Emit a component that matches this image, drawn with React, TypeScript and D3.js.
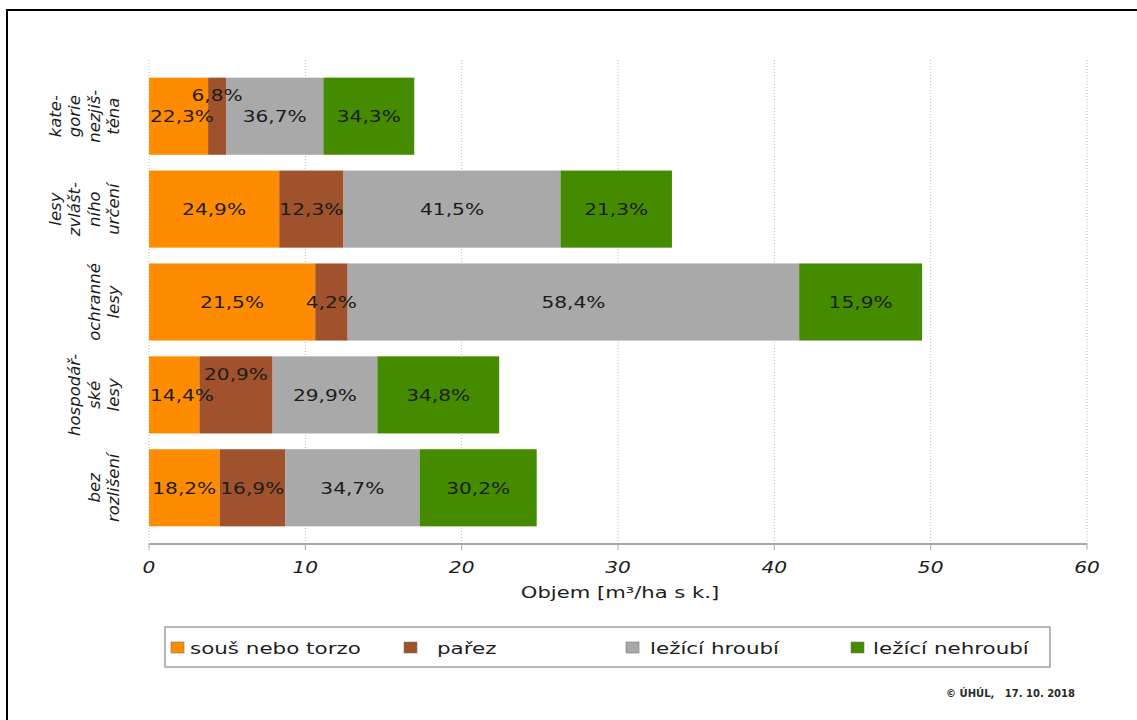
import React, { useEffect, useRef } from 'react';
import * as d3 from 'd3';

const categories = ['kategorie nezjištěna', 'lesy zvláštního určení', 'ochranné lesy', 'hospodářské lesy', 'bez rozlišení'];
const categoryLines = [
  ['kate-', 'gorie', 'nezjiš-', 'těna'],
  ['lesy', 'zvlášt-', 'ního', 'určení'],
  ['ochranné', 'lesy'],
  ['hospodář-', 'ské', 'lesy'],
  ['bez', 'rozlišení'],
];
const totals = [16.95, 33.45, 49.45, 22.4, 24.8];
const seriesNames = ['souš nebo torzo', 'pařez', 'ležící hroubí', 'ležící nehroubí'];
const seriesColors = ['#ff8c00', '#a0522d', '#a9a9a9', '#458b00'];
const sharesSous = [22.3, 24.9, 21.5, 14.4, 18.2];
const sharesParez = [6.8, 12.3, 4.2, 20.9, 16.9];
const sharesHroubi = [36.7, 41.5, 58.4, 29.9, 34.7];
const sharesNehroubi = [34.3, 21.3, 15.9, 34.8, 30.2];
const xTicks = [0, 10, 20, 30, 40, 50, 60];

const FONT = 'DejaVu Sans, Verdana, sans-serif';
const SX = 1.26;

export default function App() {
  const svgRef = useRef<SVGSVGElement>(null);

  useEffect(() => {
    if (!svgRef.current) return;
    const svg = d3.select(svgRef.current);
    svg.selectAll('*').remove();

    const shares = [sharesSous, sharesParez, sharesHroubi, sharesNehroubi];

    const x = d3.scaleLinear().domain([0, 60]).range([149, 1087]);
    const y = d3.scaleBand().domain(categories).range([60, 544]).paddingInner(0.17).paddingOuter(0.19);

    // frame (only top and left edges are in view)
    svg.append('path').attr('d', 'M7,760 L7,10 L1200,10')
      .attr('fill', 'none').attr('stroke', '#000').attr('stroke-width', 2);

    // grid
    svg.append('g').selectAll('line').data(xTicks).enter().append('line')
      .attr('x1', d => x(d)).attr('x2', d => x(d))
      .attr('y1', 60).attr('y2', 544)
      .attr('stroke', '#b8b8b8').attr('stroke-dasharray', '1,2');

    // bars
    const rows = categories.map((c, i) => {
      let acc = 0;
      return shares.map((s, k) => {
        const v = (s[i] / 100) * totals[i];
        const seg = { cat: c, k, share: s[i], x0: acc, x1: acc + v };
        acc += v;
        return seg;
      });
    });

    const gBars = svg.append('g');
    rows.forEach(segs => {
      gBars.selectAll(null).data(segs).enter().append('rect')
        .attr('x', d => x(d.x0))
        .attr('width', d => x(d.x1) - x(d.x0))
        .attr('y', d => y(d.cat) || 0)
        .attr('height', y.bandwidth())
        .attr('fill', d => seriesColors[d.k]);
    });

    // value labels, raised when they would collide with the previous one
    const gLab = svg.append('g');
    rows.forEach(segs => {
      let prevRight = -Infinity;
      segs.forEach(d => {
        const cy = (y(d.cat) || 0) + y.bandwidth() / 2;
        const t = gLab.append('text')
          .attr('font-family', FONT).attr('font-size', 16).attr('fill', '#1c1c1c')
          .text(d.share.toFixed(1).replace('.', ',') + '%');
        const w = (t.node() as SVGTextElement).getComputedTextLength() * SX;
        const cx = (x(d.x0) + x(d.x1)) / 2;
        let left = cx - w / 2;
        if (left < x(0) + 1) left = x(0) + 1;
        let dy = 0;
        if (left < prevRight - 2) dy = -21;
        else prevRight = left + w;
        t.attr('transform', `translate(${left},${cy + 6 + dy}) scale(${SX},1)`);
      });
    });

    // category labels
    const gCat = svg.append('g');
    categories.forEach((c, i) => {
      const lines = categoryLines[i];
      const cy = (y(c) || 0) + y.bandwidth() / 2;
      lines.forEach((ln, j) => {
        const bx = 119 - (lines.length - 1 - j) * 19.5;
        gCat.append('text')
          .attr('transform', `translate(${bx},${cy}) rotate(-90)`)
          .attr('text-anchor', 'middle')
          .attr('font-family', FONT).attr('font-size', 16.5).attr('font-style', 'italic')
          .attr('fill', '#1c1c1c')
          .text(ln);
      });
    });

    // x axis
    const gAx = svg.append('g');
    gAx.append('line').attr('x1', x(0)).attr('x2', x(60)).attr('y1', 544).attr('y2', 544)
      .attr('stroke', '#a8a8a8').attr('stroke-width', 2);
    gAx.selectAll('line.tick').data(xTicks).enter().append('line').attr('class', 'tick')
      .attr('x1', d => x(d)).attr('x2', d => x(d)).attr('y1', 544).attr('y2', 550)
      .attr('stroke', '#a8a8a8');
    gAx.selectAll('text').data(xTicks).enter().append('text')
      .attr('transform', d => `translate(${x(d)},573) scale(${SX},1)`)
      .attr('text-anchor', 'middle')
      .attr('font-family', FONT).attr('font-size', 16).attr('font-style', 'italic')
      .attr('fill', '#1c1c1c')
      .text(d => String(d));
    svg.append('text')
      .attr('transform', `translate(${(x(0) + x(60)) / 2 + 2},598) scale(1.32,1)`)
      .attr('text-anchor', 'middle')
      .attr('font-family', FONT).attr('font-size', 16).attr('fill', '#1c1c1c')
      .text('Objem [m³/ha s k.]');

    // legend
    const legX = [171, 404, 626, 851];
    const legTextX = [190, 437, 650, 873];
    const gLeg = svg.append('g');
    gLeg.append('rect').attr('x', 165).attr('y', 627).attr('width', 885).attr('height', 40)
      .attr('fill', '#fff').attr('stroke', '#a0a0a0').attr('stroke-width', 1.5);
    seriesNames.forEach((n, k) => {
      gLeg.append('rect').attr('x', legX[k]).attr('y', 642).attr('width', 13).attr('height', 11)
        .attr('fill', seriesColors[k]).attr('stroke', '#777').attr('stroke-width', 0.6);
      gLeg.append('text')
        .attr('transform', `translate(${legTextX[k]},654) scale(1.34,1)`)
        .attr('font-family', FONT).attr('font-size', 16).attr('fill', '#1c1c1c')
        .text(n);
    });

    svg.append('text')
      .attr('transform', `translate(1075,697)`)
      .attr('text-anchor', 'end')
      .attr('font-family', FONT).attr('font-size', 10).attr('font-weight', 'bold')
      .attr('fill', '#2a2a2a')
      .style('white-space', 'pre')
      .text('© ÚHÚL,   17. 10. 2018');
  }, []);

  return (
    <svg ref={svgRef} width={1137} height={720}
      style={{ position: 'absolute', left: 0, top: 0, background: '#fff' }} />
  );
}
